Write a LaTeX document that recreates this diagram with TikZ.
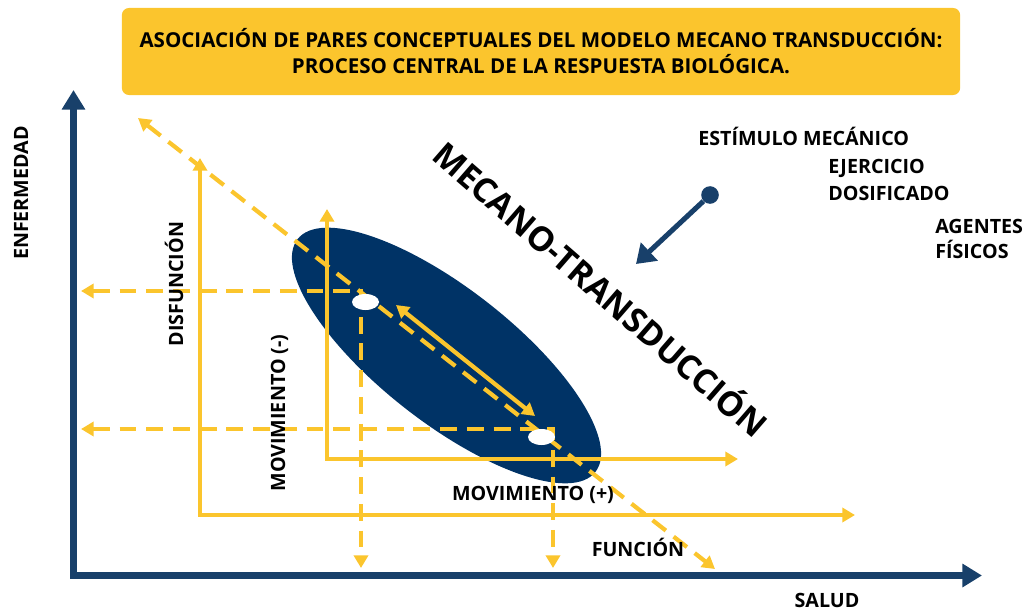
\documentclass[tikz,border=0pt]{standalone}
\usepackage{fontspec}
\setmainfont{Open Sans}
\usetikzlibrary{arrows.meta,shapes.geometric}
\definecolor{gold}{HTML}{FBC52D}
\definecolor{navy}{HTML}{003366}
\definecolor{axisblue}{HTML}{18406A}
\tikzset{bigtip/.tip={Triangle[width=16pt,length=14pt]},
  smalltip/.tip={Triangle[width=10pt,length=9pt]},
  stimtip/.tip={Triangle[width=17pt,length=13pt]}}

\begin{document}
\begin{tikzpicture}[x=0.025cm,y=-0.025cm,
    axis/.style={draw=axisblue,line width=4.3pt},
    guide/.style={draw=gold,line width=3pt},
    proj/.style={draw=gold,line width=3pt,dash pattern=on 12pt off 7pt},
    titlebox/.style={fill=gold,rounded corners=5pt,minimum width=20.95cm,minimum height=2.175cm,
      align=center,font=\bfseries\fontsize{14.6}{18.5}\selectfont},
    spot/.style={ellipse,fill=white,minimum width=0.675cm,minimum height=0.4cm,inner sep=0pt},
    knob/.style={circle,fill=axisblue,minimum size=0.44cm,inner sep=0pt},
    lbl/.style={font=\bfseries\fontsize{14}{16}\selectfont,inner sep=0pt},
    biglbl/.style={font=\bfseries\fontsize{24}{28}\selectfont,inner sep=0pt}]
  \useasboundingbox (0,0) rectangle (1025,611);
  \node[titlebox] (title) at (541,51.5)
    {ASOCIACIÓN DE PARES CONCEPTUALES DEL MODELO MECANO TRANSDUCCIÓN:\\
     PROCESO CENTRAL DE LA RESPUESTA BIOLÓGICA.};
  \coordinate (ctr) at (446.5,355.5);
  \fill[navy,rotate around={-38:(ctr)}] (ctr) ellipse (189 and 67);
  \coordinate (O) at (73.5,575.5);
  \coordinate (ytop) at (73.5,90);
  \coordinate (xend) at (982,575.5);
  \draw[axis,bigtip-bigtip] (ytop) -- (O) -- (xend);
  \coordinate (Lout) at (200,515);
  \coordinate (Lout top) at (200,158);
  \coordinate (Lout end) at (855,515);
  \coordinate (Lin) at (327,459);
  \coordinate (Lin top) at (327,209);
  \coordinate (Lin end) at (738,459);
  \foreach \L in {Lout,Lin}
    \draw[guide,smalltip-smalltip] (\L\space top) -- (\L) -- (\L\space end);
  \coordinate (c1) at (361,291);
  \coordinate (c2) at (553,429);
  \coordinate (foot) at (81,568);
  \foreach \c in {c1,c2}
    \draw[proj,smalltip-smalltip] (foot |- \c) -- (\c) -- (\c |- foot);
  \coordinate (d1) at (138,118);
  \coordinate (d2) at (715,569);
  \draw[proj,smalltip-smalltip] (d1) -- (d2);
  \coordinate (m1) at (396,305);
  \coordinate (m2) at (535,416);
  \draw[guide,smalltip-smalltip] (m1) -- (m2);
  \node[spot] (p1) at (365.5,302) {};
  \node[spot] (p2) at (541.5,437) {};
  \node[knob] (knob) at (710,195) {};
  \coordinate (hit) at (636,264);
  \draw[axisblue,line width=3.6pt,-stimtip] (knob) -- (hit);
  \node[lbl,anchor=base west] (stim) at (698,145) {ESTÍMULO MECÁNICO};
  \node[lbl,anchor=base west] (exer) at (828,173) {EJERCICIO};
  \node[lbl,anchor=base west] (dose) at (828,200) {DOSIFICADO};
  \node[lbl,anchor=base west] (agents) at (935,233) {AGENTES};
  \node[lbl,anchor=base west] (phys) at (935,258) {FÍSICOS};
  \node[lbl,rotate=90] (disease) at (21,193) {ENFERMEDAD};
  \node[lbl,rotate=90,anchor=base] (dysf) at (183,284) {DISFUNCIÓN};
  \node[lbl,rotate=90,anchor=base] (movneg) at (285,413) {MOVIMIENTO (-)};
  \node[lbl,anchor=base] (movpos) at (533,500) {MOVIMIENTO (+)};
  \node[lbl,anchor=base] (func) at (638,556) {FUNCIÓN};
  \node[lbl,anchor=base] (health) at (827,607) {SALUD};
  \node[biglbl,rotate=-41,anchor=base] (mt) at (592,299) {MECANO-TRANSDUCCIÓN};
\end{tikzpicture}
\end{document}
